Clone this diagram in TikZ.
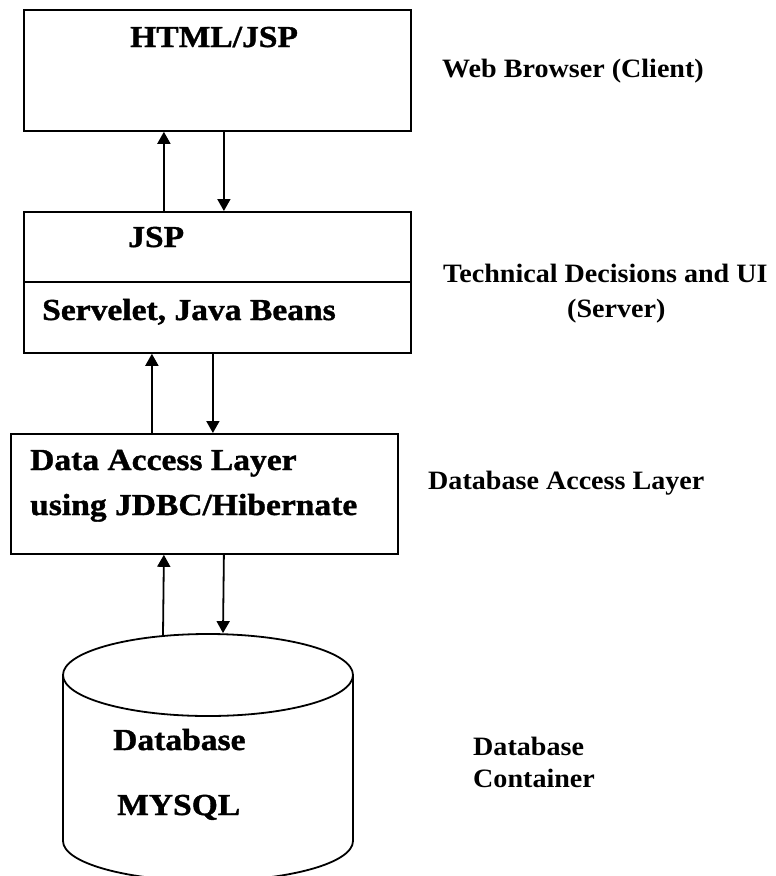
\documentclass[tikz,border=0pt]{standalone}
\usepackage{fontspec}
\setmainfont{Liberation Serif}
\newfontfamily\boxfnt{Liberation Serif}[FakeStretch=1.10,FakeBold=1.2]
\newfontfamily\labfnt{Liberation Serif}[FakeStretch=1.06]
\usetikzlibrary{arrows.meta,shapes.geometric}
\begin{document}
\begin{tikzpicture}[x=1pt,y=-1pt,
  lw/.style={line width=1.8pt},
  layerbox/.style={draw,lw,rectangle,inner sep=0pt,anchor=north west},
  boxtxt/.style={anchor=base west,inner sep=0pt,font=\boxfnt\bfseries\fontsize{30.5}{36}\selectfont},
  labtxt/.style={anchor=base west,inner sep=0pt,font=\labfnt\bfseries\fontsize{26.5}{32}\selectfont},
  arr/.style={lw,-{Triangle[width=13pt,length=12pt]}}]
\useasboundingbox (0,0) rectangle (776,876);
\clip (0,0) rectangle (776,876);
% boxes
\node[layerbox,minimum width=387pt,minimum height=121pt] (web) at (23,9) {};
\node[layerbox,minimum width=387pt,minimum height=141pt] (srv) at (23,211) {};
\coordinate (divl) at (23,282);
\coordinate (divr) at (410,282);
\draw[lw] (divl) -- (divr);
\node[layerbox,minimum width=387pt,minimum height=120pt] (dal) at (10,433) {};
% cylinder
\draw[lw,fill=white] (63,675) -- (63,841) arc[start angle=180,end angle=360,x radius=145,y radius=-40] -- (353,675);
\node[draw,lw,ellipse,minimum width=290pt,minimum height=82pt,inner sep=0pt] (db) at (208,675) {};
% box texts
\node[boxtxt] (t1) at (130,47) {HTML/JSP};
\node[boxtxt] (t2) at (128,247) {JSP};
\node[boxtxt] (t3) at (42,320) {Servelet, Java Beans};
\node[boxtxt] (t4) at (30,470) {Data Access Layer};
\node[boxtxt] (t5) at (30,515) {using JDBC/Hibernate};
\node[boxtxt] (t6) at (113,750) {Database};
\node[boxtxt] (t7) at (117,815) {MYSQL};
% right labels
\node[labtxt] (l1) at (442,77) {Web Browser (Client)};
\node[labtxt] (l2) at (443,282) {Technical Decisions and UI};
\node[labtxt] (l3) at (567,317) {(Server)};
\node[labtxt] (l4) at (428,489) {Database Access Layer};
\node[labtxt] (l5) at (473,755) {Database};
\node[labtxt] (l6) at (473,787) {Container};
% arrows
\draw[arr] ([xshift=-53.5pt]srv.north) -- ([xshift=-53.5pt]web.south);
\draw[arr] ([xshift=6.5pt]web.south) -- ([xshift=6.5pt]srv.north);
\draw[arr] ([xshift=-52.5pt]dal.north) -- ([xshift=-65.5pt]srv.south);
\draw[arr] ([xshift=-4.5pt]srv.south) -- ([xshift=8.5pt]dal.north);
\draw[arr] ([xshift=-45pt,yshift=-2pt]db.north) -- ([xshift=-40.5pt]dal.south);
\draw[arr] ([xshift=19.5pt]dal.south) -- ([xshift=15pt]db.north);
\end{tikzpicture}
\end{document}
